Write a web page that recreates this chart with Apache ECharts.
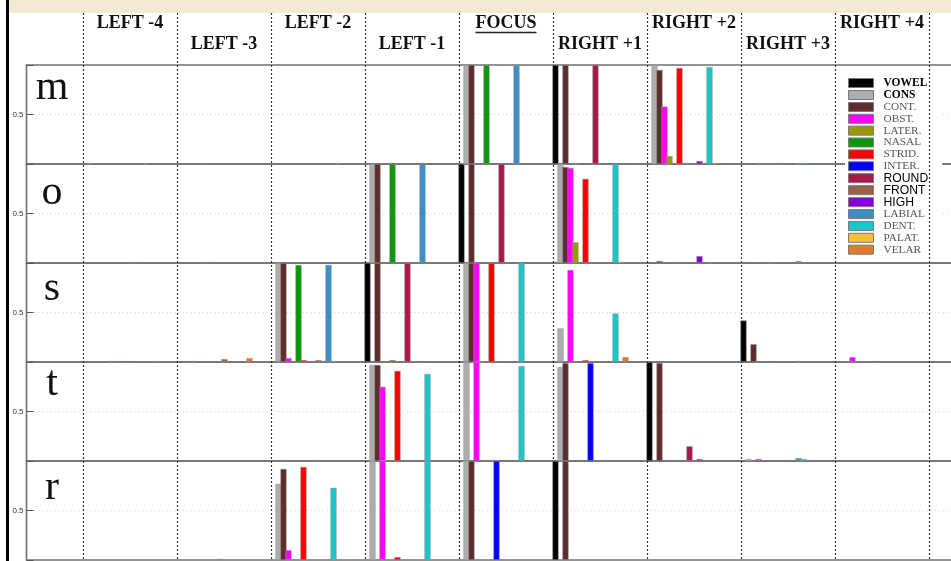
<!DOCTYPE html>
<html>
<head>
<meta charset="utf-8">
<script src="https://cdn.jsdelivr.net/npm/echarts@6/dist/echarts.min.js"></script>
<style>
html,body{margin:0;padding:0;background:#fff;}
#c{width:951px;height:561px;}
</style>
</head>
<body>
<div id="c"></div>
<script>
// ---------------- DATA ----------------
const features = ['VOWEL','CONS','CONT.','OBST.','LATER.','NASAL','STRID.','INTER.','ROUND','FRONT','HIGH','LABIAL','DENT.','PALAT.','VELAR'];
const columns = ['LEFT -4','LEFT -3','LEFT -2','LEFT -1','FOCUS','RIGHT +1','RIGHT +2','RIGHT +3','RIGHT +4'];
const rowLabels = ['m','o','s','t','r'];
const yTickLabels = ['0.5'];

// each row: one array per context column, 15 feature values (order of `features`)
const valuesM = [
  [0,0.01,0,0,0,0,0,0,0,0,0,0,0.01,0,0],
  [0,0,0,0,0,0.01,0,0,0,0,0,0,0,0,0],
  [0,0,0,0,0,0,0,0,0,0,0,0,0,0.01,0],
  [0,0,0,0,0,0,0,0,0,0,0,0,0,0,0],
  [0,1,1,0.01,0,1,0,0.01,0,0,0,1,0,0,0],
  [1,0,1,0,0.01,0,0,0,1,0,0,0,0,0,0],
  [0,1,0.95,0.58,0.08,0,0.97,0.01,0.01,0,0.03,0,0.98,0.01,0],
  [0,0,0,0.01,0,0.01,0,0.01,0,0,0,0.01,0.01,0,0],
  [0,0,0,0,0,0,0,0,0,0,0,0,0,0,0]
];
const valuesO = [
  [0,0,0,0,0,0,0,0,0,0.01,0.01,0,0,0,0],
  [0,0,0,0,0,0.01,0,0.01,0,0,0,0,0,0,0],
  [0,0,0,0,0,0,0,0,0,0,0,0,0,0,0],
  [0,1,1,0,0,1,0,0,0,0,0,1,0,0,0],
  [1,0,1,0,0,0,0,0,1,0,0,0,0,0,0],
  [0,1,0.97,0.96,0.21,0,0.85,0,0,0,0,0,1,0.01,0],
  [0,0,0.02,0,0,0,0.01,0,0,0,0.07,0,0.01,0,0],
  [0.01,0,0,0,0,0.01,0,0,0,0,0,0.02,0,0,0],
  [0,0,0,0,0,0,0,0,0,0,0,0,0,0,0]
];
const valuesS = [
  [0,0,0,0,0,0.01,0.01,0,0.01,0,0.01,0,0,0,0.01],
  [0,0,0.01,0.01,0,0,0,0,0,0.03,0,0,0,0,0.04],
  [0,1,1,0.04,0,0.98,0.02,0.01,0.01,0.02,0.01,0.98,0.01,0,0],
  [1,0,1,0,0,0.02,0,0,1,0,0.01,0,0,0,0],
  [0,1,1,1,0.01,0,1,0,0,0,0,0,1,0,0],
  [0,0.34,0,0.93,0,0,0.02,0,0,0,0,0,0.49,0,0.05],
  [0,0,0,0,0,0,0,0,0,0,0,0,0,0,0],
  [0.42,0,0.18,0,0,0.01,0,0,0,0,0,0.01,0,0,0],
  [0,0,0,0.05,0,0,0,0,0.01,0,0,0,0,0,0]
];
const valuesT = [
  [0,0,0,0,0,0,0,0,0,0,0,0,0,0,0],
  [0,0,0,0,0,0,0,0,0,0,0,0,0,0,0],
  [0,0,0.01,0,0,0,0,0,0,0.01,0,0,0,0,0],
  [0,0.97,0.97,0.75,0,0,0.91,0,0,0,0,0,0.88,0,0],
  [0,1,0,1,0,0,0.01,0,0,0,0,0,0.96,0,0],
  [0,0.95,0.99,0,0,0,0,0.99,0,0.01,0,0,0,0,0],
  [1,0,0.99,0,0,0,0,0,0.15,0,0.02,0,0,0,0],
  [0,0.02,0,0.02,0,0,0,0,0,0,0,0.03,0.02,0,0],
  [0,0,0,0,0,0,0,0,0,0,0,0,0,0,0]
];
const valuesR = [
  [0,0,0,0,0,0,0,0,0,0,0,0,0,0,0],
  [0,0,0,0,0,0,0,0,0.01,0,0,0,0,0,0],
  [0,0.77,0.92,0.10,0,0,0.94,0,0,0,0,0,0.73,0,0],
  [0,1,0,1,0,0,0.03,0,0,0,0,0,1,0,0],
  [0,1,1,0,0,0,0,1,0,0,0,0,0,0,0],
  [1,0,1,0,0,0,0,0,0,0,0,0,0,0,0],
  [0,0,0,0,0,0,0,0,0,0,0,0,0,0,0],
  [0,0,0,0,0,0,0,0,0,0,0,0,0,0,0],
  [0,0,0,0,0,0,0,0,0,0,0,0,0,0,0]
];
const rows = [valuesM, valuesO, valuesS, valuesT, valuesR];

// ---------------- STYLE / LAYOUT ----------------
const COLORS = ['#000000','#adadad','#5e2c2c','#ff00ff','#999900','#0a990a','#ff0000','#0000ff',
                '#a8184b','#9a5f48','#8800d8','#3a8fc7','#1cc6c6','#f6bf34','#e07a30'];
const GRID_LEFT = 26.5, GRID_TOP = 65, ROW_H = 99;
const X_MIN = -11.3, X_MAX = 175.4, SLOT_PX = 5;   // x axis in feature-slot units
const COL_SPAN = 18.8;                              // slots per context column
const LETTER_DY = [23, 29, 26, 22, 27];
const SERIF = 'Liberation Serif', SANS = 'Liberation Sans';

function legendTextStyle(i) {
  if (i < 2) return {fontFamily: SERIF, fontWeight: 'bold', color: '#000', fontSize: 11.5, lineHeight: 11.86, padding: [0,0,0,5]};
  if (i >= 8 && i <= 10) return {fontFamily: SANS, color: '#000', fontSize: 12.2, lineHeight: 11.86, padding: [0,0,0,5]};
  return {fontFamily: SERIF, color: '#555', fontSize: 11.3, lineHeight: 11.86, padding: [0,0,0,5]};
}

const chart = echarts.init(document.getElementById('c'), null, {renderer: 'canvas', width: 951, height: 561});

const grids = [], xAxes = [], yAxes = [], series = [];
rows.forEach((vals, r) => {
  grids.push({
    left: GRID_LEFT, top: GRID_TOP + r * ROW_H,
    width: (X_MAX - X_MIN) * SLOT_PX, height: ROW_H,
    show: true, borderColor: '#707070', borderWidth: 1.6, backgroundColor: 'rgba(0,0,0,0)',
    containLabel: false, outerBoundsMode: 'none'
  });
  xAxes.push({gridIndex: r, type: 'value', min: X_MIN, max: X_MAX, show: false});
  yAxes.push({
    gridIndex: r, type: 'value', min: 0, max: 1, interval: 0.5,
    axisLine: {show: false, onZero: false},
    axisTick: {show: true, inside: true, length: 7, lineStyle: {color: '#555', width: 1}},
    axisLabel: {
      formatter: v => (Math.abs(v - 0.5) < 1e-9 ? yTickLabels[0] : ''),
      fontSize: 8, color: '#333', margin: 3, fontFamily: SANS
    },
    splitLine: {show: true, lineStyle: {type: [1, 3], width: 1, color: ['rgba(0,0,0,0)', '#c4c4c4', 'rgba(0,0,0,0)']}}
  });
  features.forEach((name, f) => {
    series.push({
      type: 'bar', name, xAxisIndex: r, yAxisIndex: r,
      barWidth: 6.2, barGap: '-100%', z: 6,
      itemStyle: {color: COLORS[f], borderColor: 'rgba(150,150,150,0.8)', borderWidth: 0.6},
      emphasis: {disabled: true},
      data: vals.map((col, k) => [k * COL_SPAN + f + 0.5, col[f]]).filter(d => d[1] > 0)
    });
  });
});

chart.setOption({
  animation: false,
  backgroundColor: '#fff',
  grid: grids, xAxis: xAxes, yAxis: yAxes, series,
  legend: {
    orient: 'vertical', left: 845, top: 74,
    backgroundColor: '#fff', padding: [3, 14, 3, 3],
    itemWidth: 25, itemHeight: 9, itemGap: 0,
    icon: 'rect', selectedMode: false, z: 4,
    itemStyle: {borderColor: '#7a7a7a', borderWidth: 1},
    data: features.map((n, i) => ({name: n, textStyle: legendTextStyle(i)}))
  }
});

// ---------- decorations positioned from the axis scale ----------
const px = v => chart.convertToPixel({xAxisIndex: 0}, v);
const g = [];
g.push({type: 'rect', shape: {x: 9, y: 0, width: 942, height: 13}, style: {fill: '#f2ead3'}, z: 1});
g.push({type: 'rect', shape: {x: 6, y: 0, width: 3, height: 561}, style: {fill: '#000'}, z: 1});
for (let k = 0; k <= columns.length; k++) {
  const x = Math.round(px(k * COL_SPAN)) + 0.5;
  g.push({type: 'line', shape: {x1: x, y1: 13, x2: x, y2: 561},
          style: {stroke: '#333', lineWidth: 1.2, lineDash: [2, 2]}, z: 5});
}
const headerFont = 'bold 18px "' + SERIF + '"';
const meas = document.createElement('canvas').getContext('2d');
meas.font = headerFont;
columns.forEach((name, k) => {
  const cx = px(k * COL_SPAN + COL_SPAN / 2);
  const cy = (k % 2 === 0) ? 23 : 44;
  g.push({type: 'text', x: cx, y: cy, z: 5,
          style: {text: name, font: headerFont, fill: '#111', align: 'center', verticalAlign: 'middle'}});
  if (name === 'FOCUS') {
    const w = meas.measureText(name).width;
    g.push({type: 'line', shape: {x1: cx - w / 2, y1: 32.5, x2: cx + w / 2, y2: 32.5},
            style: {stroke: '#222', lineWidth: 1.4}, z: 5});
  }
});
rowLabels.forEach((lab, r) => {
  g.push({type: 'text', x: 52, y: GRID_TOP + r * ROW_H + LETTER_DY[r], z: 5,
          style: {text: lab, font: '42px "' + SERIF + '"', fill: '#111', align: 'center', verticalAlign: 'middle'}});
});
chart.setOption({graphic: g});
</script>
</body>
</html>
